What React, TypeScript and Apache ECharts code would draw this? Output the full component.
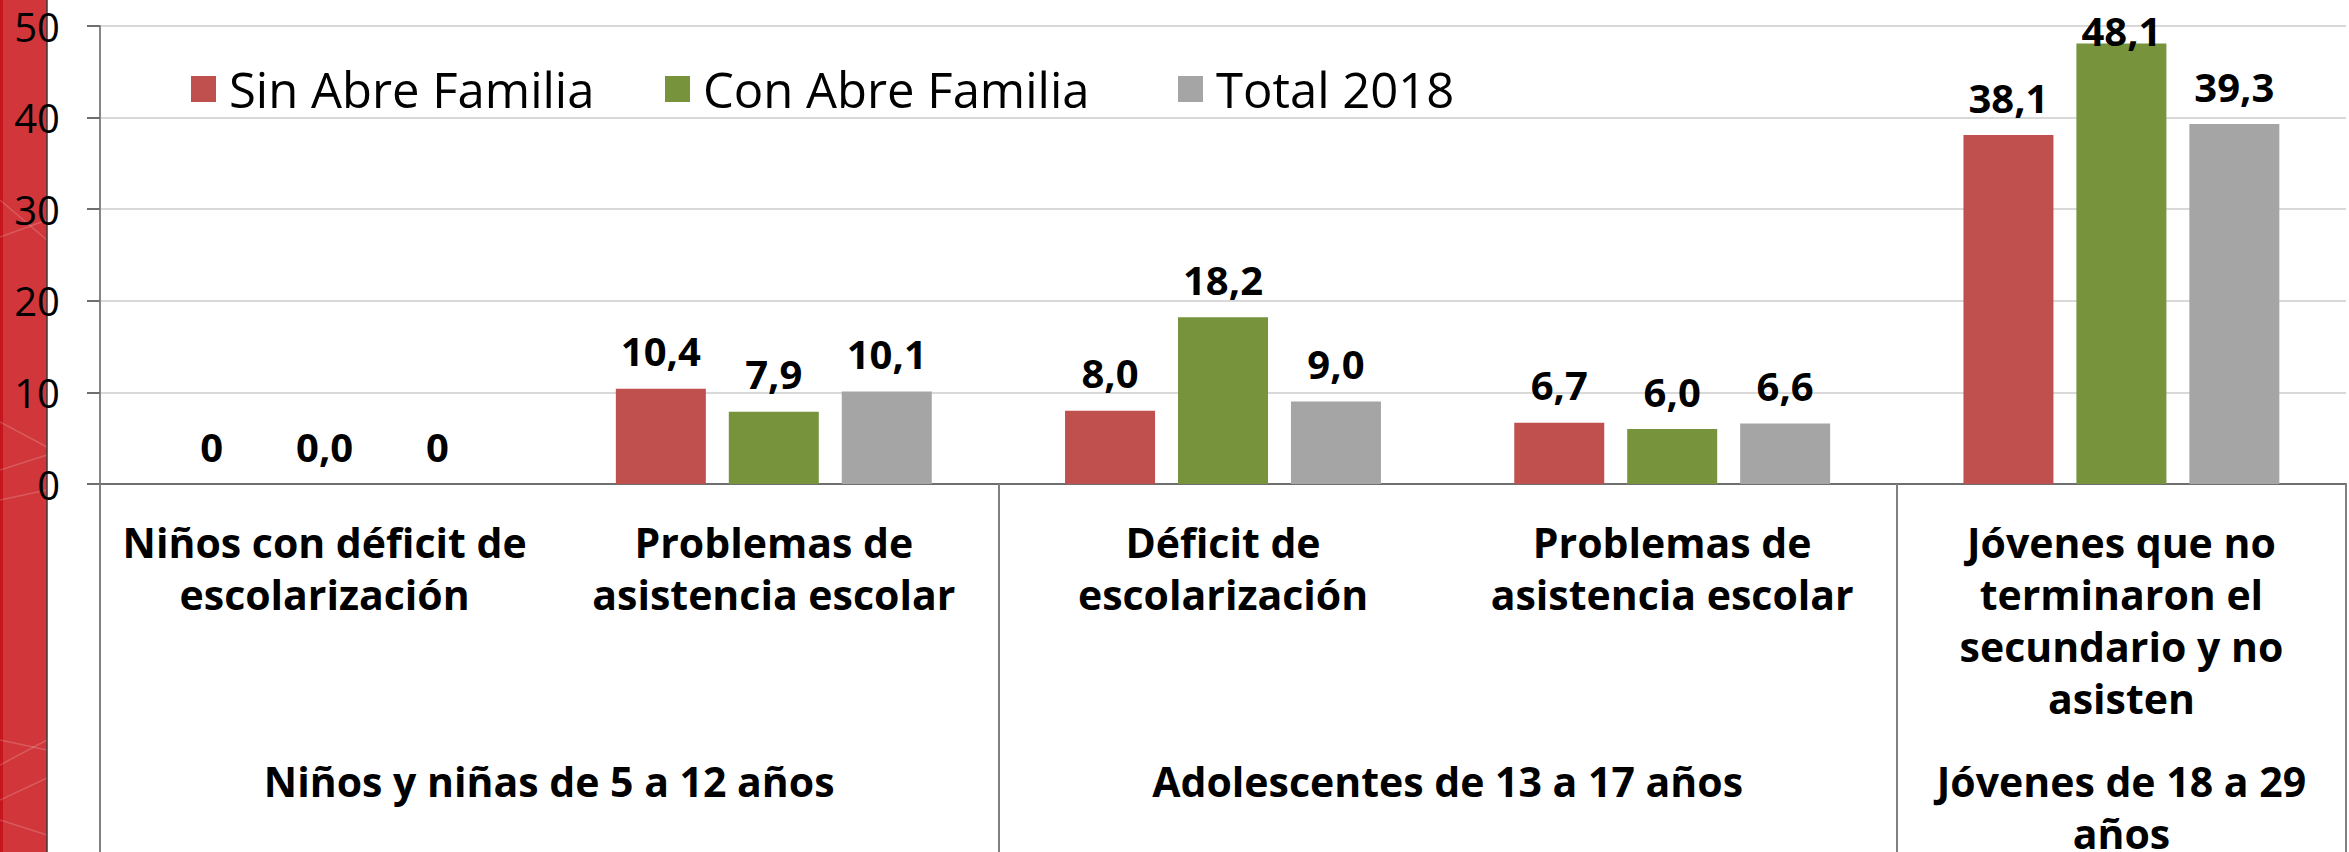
import React, { useEffect, useRef } from "react";
import * as echarts from "echarts";

const categories = [
  "Niños con déficit de\nescolarización",
  "Problemas de\nasistencia escolar",
  "Déficit de\nescolarización",
  "Problemas de\nasistencia escolar",
  "Jóvenes que no\nterminaron el\nsecundario y no\nasisten",
];
const groupNames = [
  "Niños y niñas de 5 a 12 años",
  "Adolescentes de 13 a 17 años",
  "Jóvenes de 18 a 29\naños",
];
const groupSpans = [2, 2, 1];
const seriesNames = ["Sin Abre Familia", "Con Abre Familia", "Total 2018"];
const sinValues = [0, 10.4, 8.0, 6.7, 38.1];
const conValues = [0.0, 7.9, 18.2, 6.0, 48.1];
const totalValues = [0, 10.1, 9.0, 6.6, 39.3];
const sinLabels = ["0", "10,4", "8,0", "6,7", "38,1"];
const conLabels = ["0,0", "7,9", "18,2", "6,0", "48,1"];
const totalLabels = ["0", "10,1", "9,0", "6,6", "39,3"];
const yMin = 0;
const yMax = 50;
const yInterval = 10;

const FONT = "'Open Sans', sans-serif";

export default function App() {
  const ref = useRef<HTMLDivElement>(null);
  useEffect(() => {
    if (!ref.current) return;
    const chart = echarts.init(ref.current, undefined, { renderer: "svg" });

    // group axis slots (half-category resolution, boundaryGap false)
    const totalCats = groupSpans.reduce((a, b) => a + b, 0);
    const slots: string[] = new Array(totalCats * 2 + 1).fill("");
    const boundaries: number[] = [];
    let pos = 0;
    groupSpans.forEach((span, gi) => {
      boundaries.push(pos * 2);
      slots[pos * 2 + span] = groupNames[gi];
      pos += span;
    });
    boundaries.push(pos * 2);

    const makeData = (vals: number[]) =>
      vals.map((v) =>
        v > yMax - 5 ? { value: v, label: { offset: [0, 25] } } : { value: v }
      );

    const colors = ["#c0504d", "#77933c", "#a5a5a5"];
    const valueSets = [sinValues, conValues, totalValues];
    const labelSets = [sinLabels, conLabels, totalLabels];

    const series = seriesNames.map((name, si) => ({
      name,
      type: "bar",
      xAxisIndex: 0,
      barWidth: 90,
      barGap: "25.5%",
      itemStyle: { color: colors[si] },
      data: makeData(valueSets[si]),
      label: {
        show: true,
        position: "top",
        distance: 18,
        fontFamily: FONT,
        fontSize: 40,
        fontWeight: "bold",
        color: "#000",
        formatter: (p: any) => labelSets[si][p.dataIndex],
      },
    }));

    const legendLefts = [191, 665, 1178];
    const legends = seriesNames.map((name, i) => ({
      left: legendLefts[i],
      top: 64,
      padding: 0,
      itemWidth: 25,
      itemHeight: 26,
      icon: "rect",
      textStyle: {
        fontFamily: FONT,
        fontSize: 49,
        lineHeight: 50,
        color: "#000",
        padding: [0, 0, 0, 8],
      },
      data: [name],
    }));

    const bandLines = [
      [[0, 237], [47, 220]],
      [[0, 200], [47, 240]],
      [[0, 422], [47, 447]],
      [[0, 470], [47, 455]],
      [[0, 500], [47, 490]],
      [[0, 740], [47, 750]],
      [[0, 765], [47, 740]],
      [[0, 800], [47, 778]],
      [[0, 820], [47, 835]],
    ];

    chart.setOption({
      animation: false,
      backgroundColor: "#ffffff",
      grid: {
        left: 100,
        right: 3,
        top: 26,
        bottom: 368,
        containLabel: false,
        outerBoundsMode: "none",
      },
      legend: legends,
      xAxis: [
        {
          type: "category",
          data: categories,
          position: "bottom",
          axisLine: { show: true, lineStyle: { color: "#6f6f6f", width: 2 } },
          axisTick: { show: false },
          axisLabel: {
            interval: 0,
            margin: 32,
            fontFamily: FONT,
            fontSize: 41,
            fontWeight: "bold",
            lineHeight: 52,
            color: "#000",
          },
        },
        {
          type: "category",
          data: slots,
          position: "bottom",
          boundaryGap: false,
          offset: 0,
          axisLine: { show: false },
          axisTick: {
            show: true,
            interval: (idx: number) => boundaries.includes(idx),
            length: 368,
            lineStyle: { color: "#808080", width: 2 },
          },
          axisLabel: {
            interval: 0,
            margin: 271,
            fontFamily: FONT,
            fontSize: 41,
            fontWeight: "bold",
            lineHeight: 52,
            color: "#000",
          },
        },
      ],
      yAxis: {
        type: "value",
        min: yMin,
        max: yMax,
        interval: yInterval,
        axisLine: { show: true, lineStyle: { color: "#868686", width: 2 } },
        axisTick: { show: true, length: 13, lineStyle: { color: "#6f6f6f", width: 2 } },
        axisLabel: {
          margin: 40,
          fontFamily: FONT,
          fontSize: 40,
          color: "#000",
        },
        splitLine: { show: true, lineStyle: { color: "#d9d9d9", width: 2 } },
      },
      graphic: [
        {
          type: "rect",
          z: 0,
          shape: { x: 0, y: 0, width: 47, height: 852 },
          style: { fill: "#d0363a" },
        },
        {
          type: "rect",
          z: 0,
          shape: { x: 0, y: 0, width: 3, height: 852 },
          style: { fill: "#c4161c" },
        },
        ...bandLines.map((pts) => ({
          type: "line",
          z: 0,
          shape: { x1: pts[0][0], y1: pts[0][1], x2: pts[1][0], y2: pts[1][1] },
          style: { stroke: "rgba(255,255,255,0.18)", lineWidth: 1.5 },
        })),
        {
          type: "line",
          z: 0,
          shape: { x1: 47, y1: 0, x2: 47, y2: 852 },
          style: { stroke: "#3a3a3a", lineWidth: 1.5 },
        },
      ],
      series,
    });
    return () => chart.dispose();
  }, []);
  return (
    <div
      ref={ref}
      style={{ position: "absolute", left: 0, top: 0, width: 2349, height: 852 }}
    />
  );
}
